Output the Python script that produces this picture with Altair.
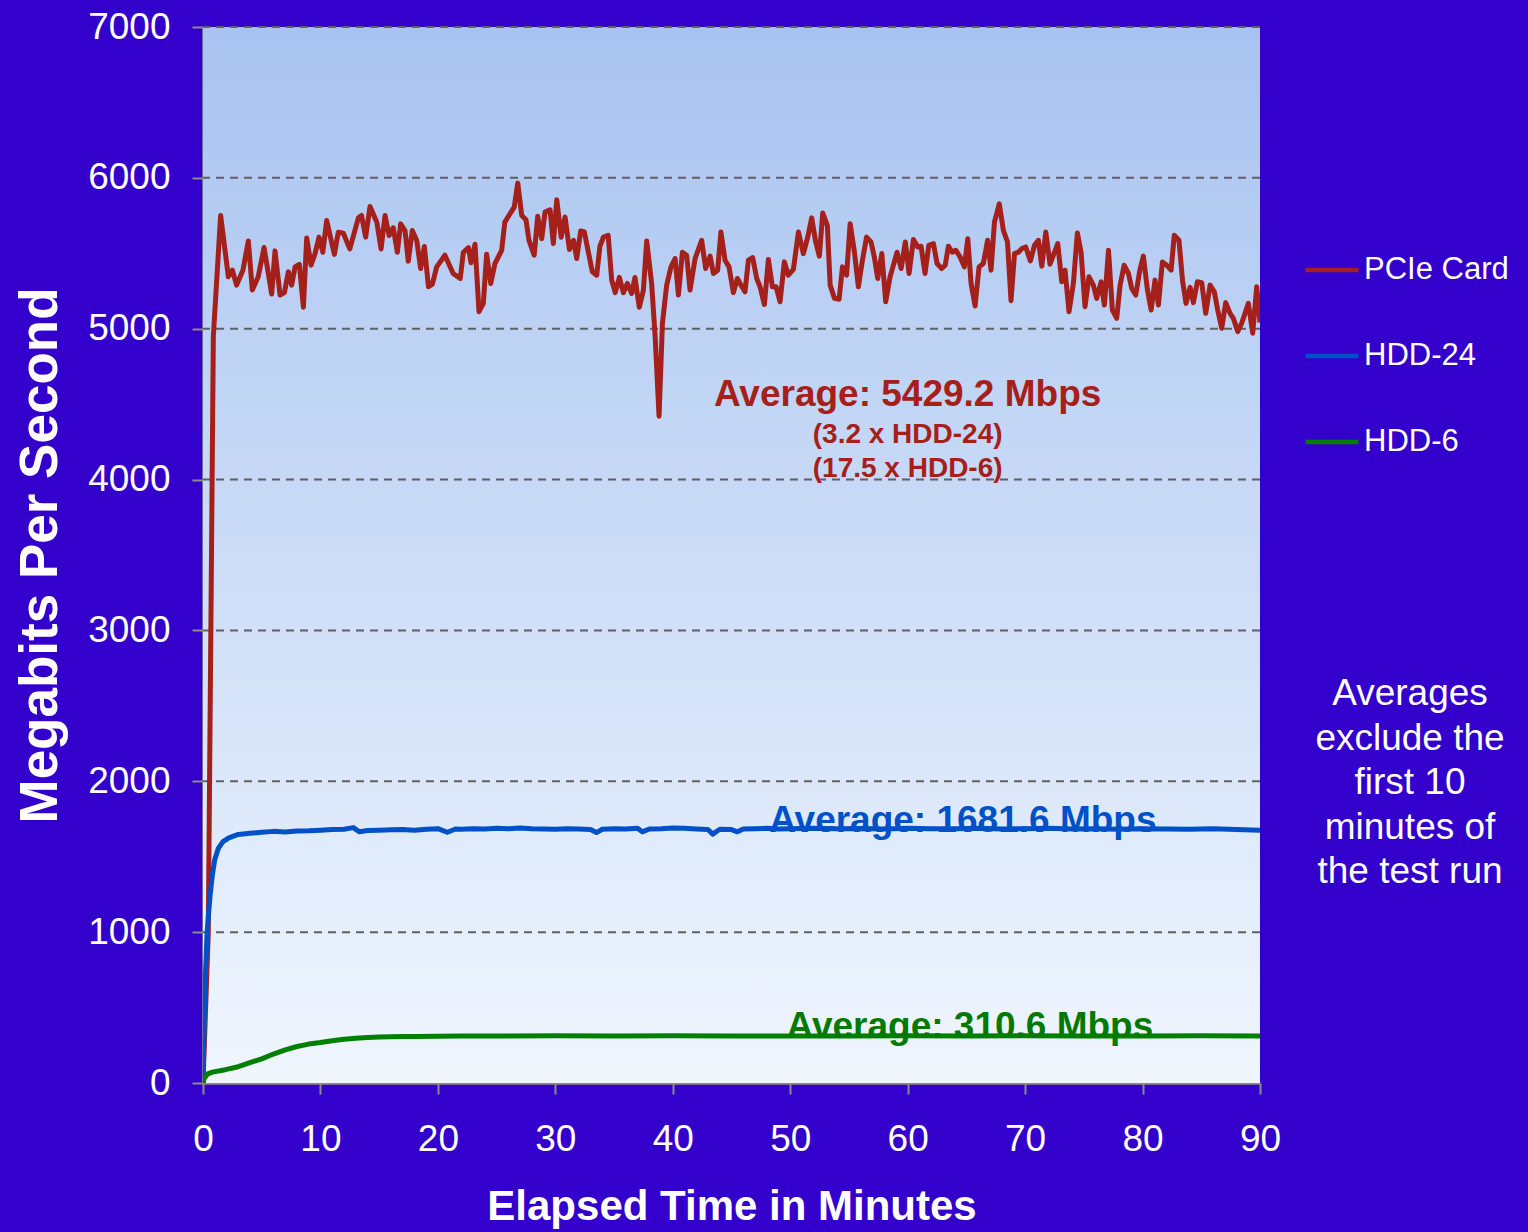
import altair as alt
import pandas as pd

FONT = "Liberation Sans"

series_names = ["PCIe Card", "HDD-24", "HDD-6"]
series_colors = ["#A5201A", "#0050C8", "#008000"]

x_ticks = [0, 10, 20, 30, 40, 50, 60, 70, 80, 90]
y_ticks = [0, 1000, 2000, 3000, 4000, 5000, 6000, 7000]
grid_values = [1000, 2000, 3000, 4000, 5000, 6000, 7000]

# (minutes, Mbps)
pcie = [
    (0, 0), (0.45, 1000), (0.88, 4948), (1.5, 5751), (2.16, 5344), (2.5, 5388), (2.86, 5289),
    (3.4, 5388), (3.86, 5582), (4.2, 5256), (4.7, 5344), (5.2, 5538), (5.85, 5230), (6.13, 5516),
    (6.56, 5223), (6.93, 5239), (7.27, 5377), (7.55, 5289), (7.84, 5410), (8.2, 5427), (8.55, 5143),
    (8.83, 5602), (9.2, 5421), (9.54, 5498), (9.88, 5607), (10.2, 5507), (10.53, 5717), (11.19, 5493),
    (11.52, 5640), (11.95, 5633), (12.5, 5529), (13.23, 5735), (13.5, 5751), (13.85, 5607),
    (14.22, 5810), (14.8, 5706), (15.16, 5529), (15.5, 5751), (15.85, 5618), (16.2, 5669),
    (16.55, 5507), (16.83, 5695), (17.2, 5651), (17.48, 5448), (17.82, 5651), (18.2, 5585),
    (18.53, 5399), (18.85, 5545), (19.2, 5278), (19.53, 5295), (19.9, 5410), (20.6, 5487),
    (21.3, 5366), (21.9, 5333), (22.17, 5507), (22.6, 5538), (22.82, 5437), (23.16, 5560),
    (23.5, 5113), (23.87, 5168), (24.15, 5494), (24.5, 5300), (24.86, 5432), (25.43, 5520),
    (25.7, 5707), (26.14, 5762), (26.5, 5806), (26.8, 5965), (27.14, 5751), (27.5, 5723),
    (27.76, 5586), (28.2, 5487), (28.5, 5745), (28.84, 5597), (29.12, 5773), (29.55, 5788),
    (29.83, 5564), (30.12, 5855), (30.5, 5607), (30.83, 5740), (31.2, 5525), (31.55, 5586),
    (31.82, 5465), (32.16, 5648), (32.47, 5641), (33.15, 5377), (33.52, 5355), (33.8, 5547),
    (34.1, 5608), (34.5, 5619), (34.8, 5322), (35.1, 5239), (35.45, 5340), (35.79, 5239),
    (36.13, 5300), (36.5, 5234), (36.78, 5340), (37.15, 5142), (37.5, 5256), (37.78, 5582),
    (38.2, 5300), (38.5, 4948), (38.83, 4420), (39.12, 5036), (39.48, 5289), (39.85, 5410),
    (40.2, 5465), (40.48, 5223), (40.82, 5507), (41.18, 5487), (41.47, 5256), (41.9, 5465),
    (42.46, 5586), (42.8, 5399), (43.18, 5481), (43.46, 5366), (43.82, 5388), (44.1, 5641),
    (44.45, 5454), (44.79, 5410), (45.16, 5239), (45.5, 5333), (45.81, 5289), (46.15, 5245),
    (46.44, 5454), (46.8, 5472), (47.15, 5333), (47.43, 5278), (47.8, 5160), (48.14, 5459),
    (48.48, 5278), (48.8, 5278), (49.13, 5179), (49.5, 5443), (49.84, 5355), (50.27, 5393),
    (50.7, 5641), (51.12, 5498), (51.49, 5607), (51.83, 5735), (52.17, 5575), (52.48, 5481),
    (52.77, 5767), (53.16, 5685), (53.4, 5289), (53.77, 5201), (54.16, 5195), (54.45, 5410),
    (54.8, 5355), (55.1, 5696), (55.47, 5507), (55.8, 5278), (56.15, 5454), (56.5, 5607),
    (56.88, 5575), (57.16, 5476), (57.45, 5333), (57.8, 5498), (58.13, 5179), (58.5, 5344),
    (59.1, 5507), (59.44, 5399), (59.8, 5575), (60.12, 5366), (60.49, 5591), (60.86, 5542),
    (61.14, 5547), (61.48, 5366), (61.8, 5553), (62.2, 5564), (62.5, 5432), (62.9, 5399),
    (63.2, 5421), (63.47, 5547), (63.8, 5507), (64.1, 5520), (64.46, 5476), (64.83, 5410),
    (65.12, 5597), (65.4, 5300), (65.74, 5151), (66.08, 5410), (66.44, 5432), (66.81, 5586),
    (67.1, 5388), (67.39, 5707), (67.8, 5828), (68.15, 5652), (68.5, 5575), (68.8, 5186),
    (69.1, 5498), (69.43, 5507), (69.72, 5531), (70.05, 5542), (70.45, 5450), (70.8, 5553),
    (71.13, 5586), (71.42, 5415), (71.76, 5641), (72.12, 5428), (72.78, 5564), (73.12, 5311),
    (73.4, 5388), (73.74, 5113), (74.11, 5300), (74.45, 5635), (74.77, 5503), (75.1, 5146),
    (75.44, 5344), (75.81, 5289), (76.1, 5201), (76.47, 5311), (76.75, 5157), (77.1, 5520),
    (77.43, 5124), (77.8, 5069), (78.09, 5289), (78.43, 5421), (78.8, 5366), (79.08, 5267),
    (79.42, 5223), (79.77, 5388), (80.07, 5481), (80.4, 5267), (80.73, 5124), (81.06, 5322),
    (81.35, 5157), (81.69, 5443), (82.05, 5421), (82.43, 5388), (82.7, 5619), (83.1, 5586),
    (83.4, 5322), (83.7, 5168), (84.05, 5274), (84.33, 5173), (84.67, 5311), (85.04, 5305),
    (85.38, 5102), (85.75, 5289), (86.11, 5245), (86.4, 5124), (86.74, 5003), (87.08, 5173),
    (87.45, 5102), (87.73, 5069), (88.1, 4981), (88.44, 5036), (89.01, 5168), (89.38, 4970),
    (89.72, 5278), (90.0, 5041),
]

hdd24 = [
    (0, 0), (0.15, 600), (0.35, 1000), (0.6, 1240), (0.8, 1380), (1.0, 1480), (1.3, 1555),
    (1.7, 1600), (2.2, 1625), (3, 1648), (4, 1655), (5, 1662), (6, 1668), (7, 1664), (8, 1670),
    (9, 1672), (10, 1676), (11, 1680), (12, 1682), (12.8, 1693), (13.3, 1665), (14, 1674),
    (15, 1676), (16, 1678), (17, 1680), (18, 1676), (19, 1682), (20, 1686), (20.8, 1662),
    (21.5, 1684), (22, 1682), (23, 1686), (24, 1684), (25, 1688), (26, 1685), (27, 1690),
    (28, 1686), (29, 1684), (30, 1682), (31, 1685), (32, 1683), (33, 1680), (33.5, 1660),
    (34, 1682), (35, 1686), (36, 1684), (37, 1688), (37.4, 1665), (38, 1684), (39, 1686),
    (40, 1690), (41, 1688), (42, 1684), (43, 1680), (43.4, 1650), (44, 1682), (45, 1680),
    (45.5, 1665), (46, 1684), (47, 1686), (48, 1688), (49, 1684), (50, 1686), (52, 1688),
    (54, 1685), (56, 1687), (58, 1684), (60, 1688), (62, 1686), (64, 1685), (66, 1688),
    (68, 1684), (70, 1686), (72, 1688), (74, 1684), (76, 1686), (78, 1682), (80, 1685),
    (82, 1684), (84, 1682), (86, 1686), (88, 1680), (90, 1676),
]

hdd6 = [
    (0, 0), (0.1, 30), (0.4, 60), (0.8, 72), (2, 90), (3, 108), (4, 135), (5, 160), (6, 192),
    (7, 220), (8, 242), (9, 258), (10, 268), (11, 280), (12, 290), (13, 297), (14, 302),
    (15, 305), (16, 307), (17, 308), (18, 309), (20, 310), (22, 311), (25, 312), (30, 313),
    (35, 312), (40, 313), (45, 312), (50, 311), (55, 312), (60, 313), (65, 312), (70, 313),
    (75, 311), (80, 312), (85, 313), (90, 312),
]

pcie_avg_text = "Average: 5429.2 Mbps"
pcie_ratio_text = ["(3.2 x HDD-24)", "(17.5 x HDD-6)"]
hdd24_avg_text = "Average: 1681.6 Mbps"
hdd6_avg_text = "Average: 310.6 Mbps"
note_lines = ["Averages", "exclude the", "first 10", "minutes of", "the test run"]

# annotation anchors (minutes, Mbps)
pcie_avg_pos = (60.0, 4561)
pcie_ratio_pos = (60.0, 4295)
hdd24_avg_pos = (64.7, 1740)
hdd6_avg_pos = (65.3, 371)

rows = []
for name, data in zip(series_names, [pcie, hdd24, hdd6]):
    for t, v in data:
        rows.append({"t": t, "v": v, "series": name})
df = pd.DataFrame(rows)

x_scale = alt.Scale(domain=[0, 90], nice=False, zero=False)
y_scale = alt.Scale(domain=[0, 7000], nice=False)

x_enc = alt.X(
    "t:Q", scale=x_scale,
    axis=alt.Axis(values=x_ticks, title="Elapsed Time in Minutes", grid=False,
                  labelFlush=False, labelPadding=27, titlePadding=29, titleFontSize=42),
)
y_enc = alt.Y(
    "v:Q", scale=y_scale,
    axis=alt.Axis(values=y_ticks, format="d", title="Megabits Per Second", grid=False,
                  labelFlush=False, labelPadding=22, titlePadding=20, titleFontSize=53),
)

panel = alt.Chart(pd.DataFrame({"a": [0]})).mark_rect(
    color=alt.Gradient(
        gradient="linear", x1=0, y1=0, x2=0, y2=1,
        stops=[alt.GradientStop(offset=0, color="#A8C3F0"),
               alt.GradientStop(offset=1, color="#F0F6FE")],
    )
).encode(
    x=alt.datum(0, scale=x_scale, type="quantitative"), x2=alt.datum(90),
    y=alt.datum(0, scale=y_scale, type="quantitative"), y2=alt.datum(7000),
)

grid = alt.Chart(pd.DataFrame({"g": grid_values})).mark_rule(
    color="#606060", strokeDash=[8, 6], strokeWidth=2
).encode(y=alt.Y("g:Q", scale=y_scale))

lines = alt.Chart(df).mark_line(strokeWidth=5, strokeJoin="round", clip=True).encode(
    x=x_enc,
    y=y_enc,
    color=alt.Color(
        "series:N",
        scale=alt.Scale(domain=series_names, range=series_colors),
        sort=series_names,
        legend=alt.Legend(
            title=None, orient="none", legendX=1100, legendY=214,
            symbolType="stroke", symbolSize=2809, symbolStrokeWidth=4.5,
            labelFontSize=31, labelColor="white", labelFont=FONT,
            labelOffset=3, rowPadding=42, padding=0,
        ),
    ),
    order=alt.Order("t:Q"),
)


def annot(pos, text, color, size, line_height=None):
    d = pd.DataFrame({"t": [pos[0]], "v": [pos[1]]})
    kw = dict(font=FONT, fontWeight="bold", fontSize=size, color=color,
              align="center", baseline="middle")
    if line_height:
        kw["lineHeight"] = line_height
    return alt.Chart(d).mark_text(**kw).encode(
        x=alt.X("t:Q"), y=alt.Y("v:Q"), text=alt.value(text)
    )


t1 = annot(pcie_avg_pos, pcie_avg_text, "#A5201A", 37)
t2 = annot(pcie_ratio_pos, pcie_ratio_text, "#A5201A", 28, 34)
t3 = annot(hdd24_avg_pos, hdd24_avg_text, "#0050C8", 37)
t4 = annot(hdd6_avg_pos, hdd6_avg_text, "#007A00", 37)

note = alt.Chart(pd.DataFrame({"a": [0]})).mark_text(
    font=FONT, fontSize=37, color="white", align="center", baseline="middle", lineHeight=44.5
).encode(x=alt.value(1207), y=alt.value(667), text=alt.value(note_lines))

chart = alt.layer(panel, grid, lines, t1, t2, t3, t4, note).properties(
    width=1057,
    height=1056,
    padding={"left": 203, "top": 27, "right": 268, "bottom": 149},
    autosize=alt.AutoSizeParams(type="none"),
    background="#3300CC",
).configure_view(
    strokeWidth=0,
).configure_axis(
    domainColor="#8C8C8C", domainWidth=2.5,
    tickColor="#8C8C8C", tickSize=11, tickWidth=2,
    labelColor="white", labelFont=FONT, labelFontSize=37,
    titleColor="white", titleFont=FONT, titleFontWeight="bold",
)

chart.save("out.html", embed_options={"renderer": "svg", "actions": False})
